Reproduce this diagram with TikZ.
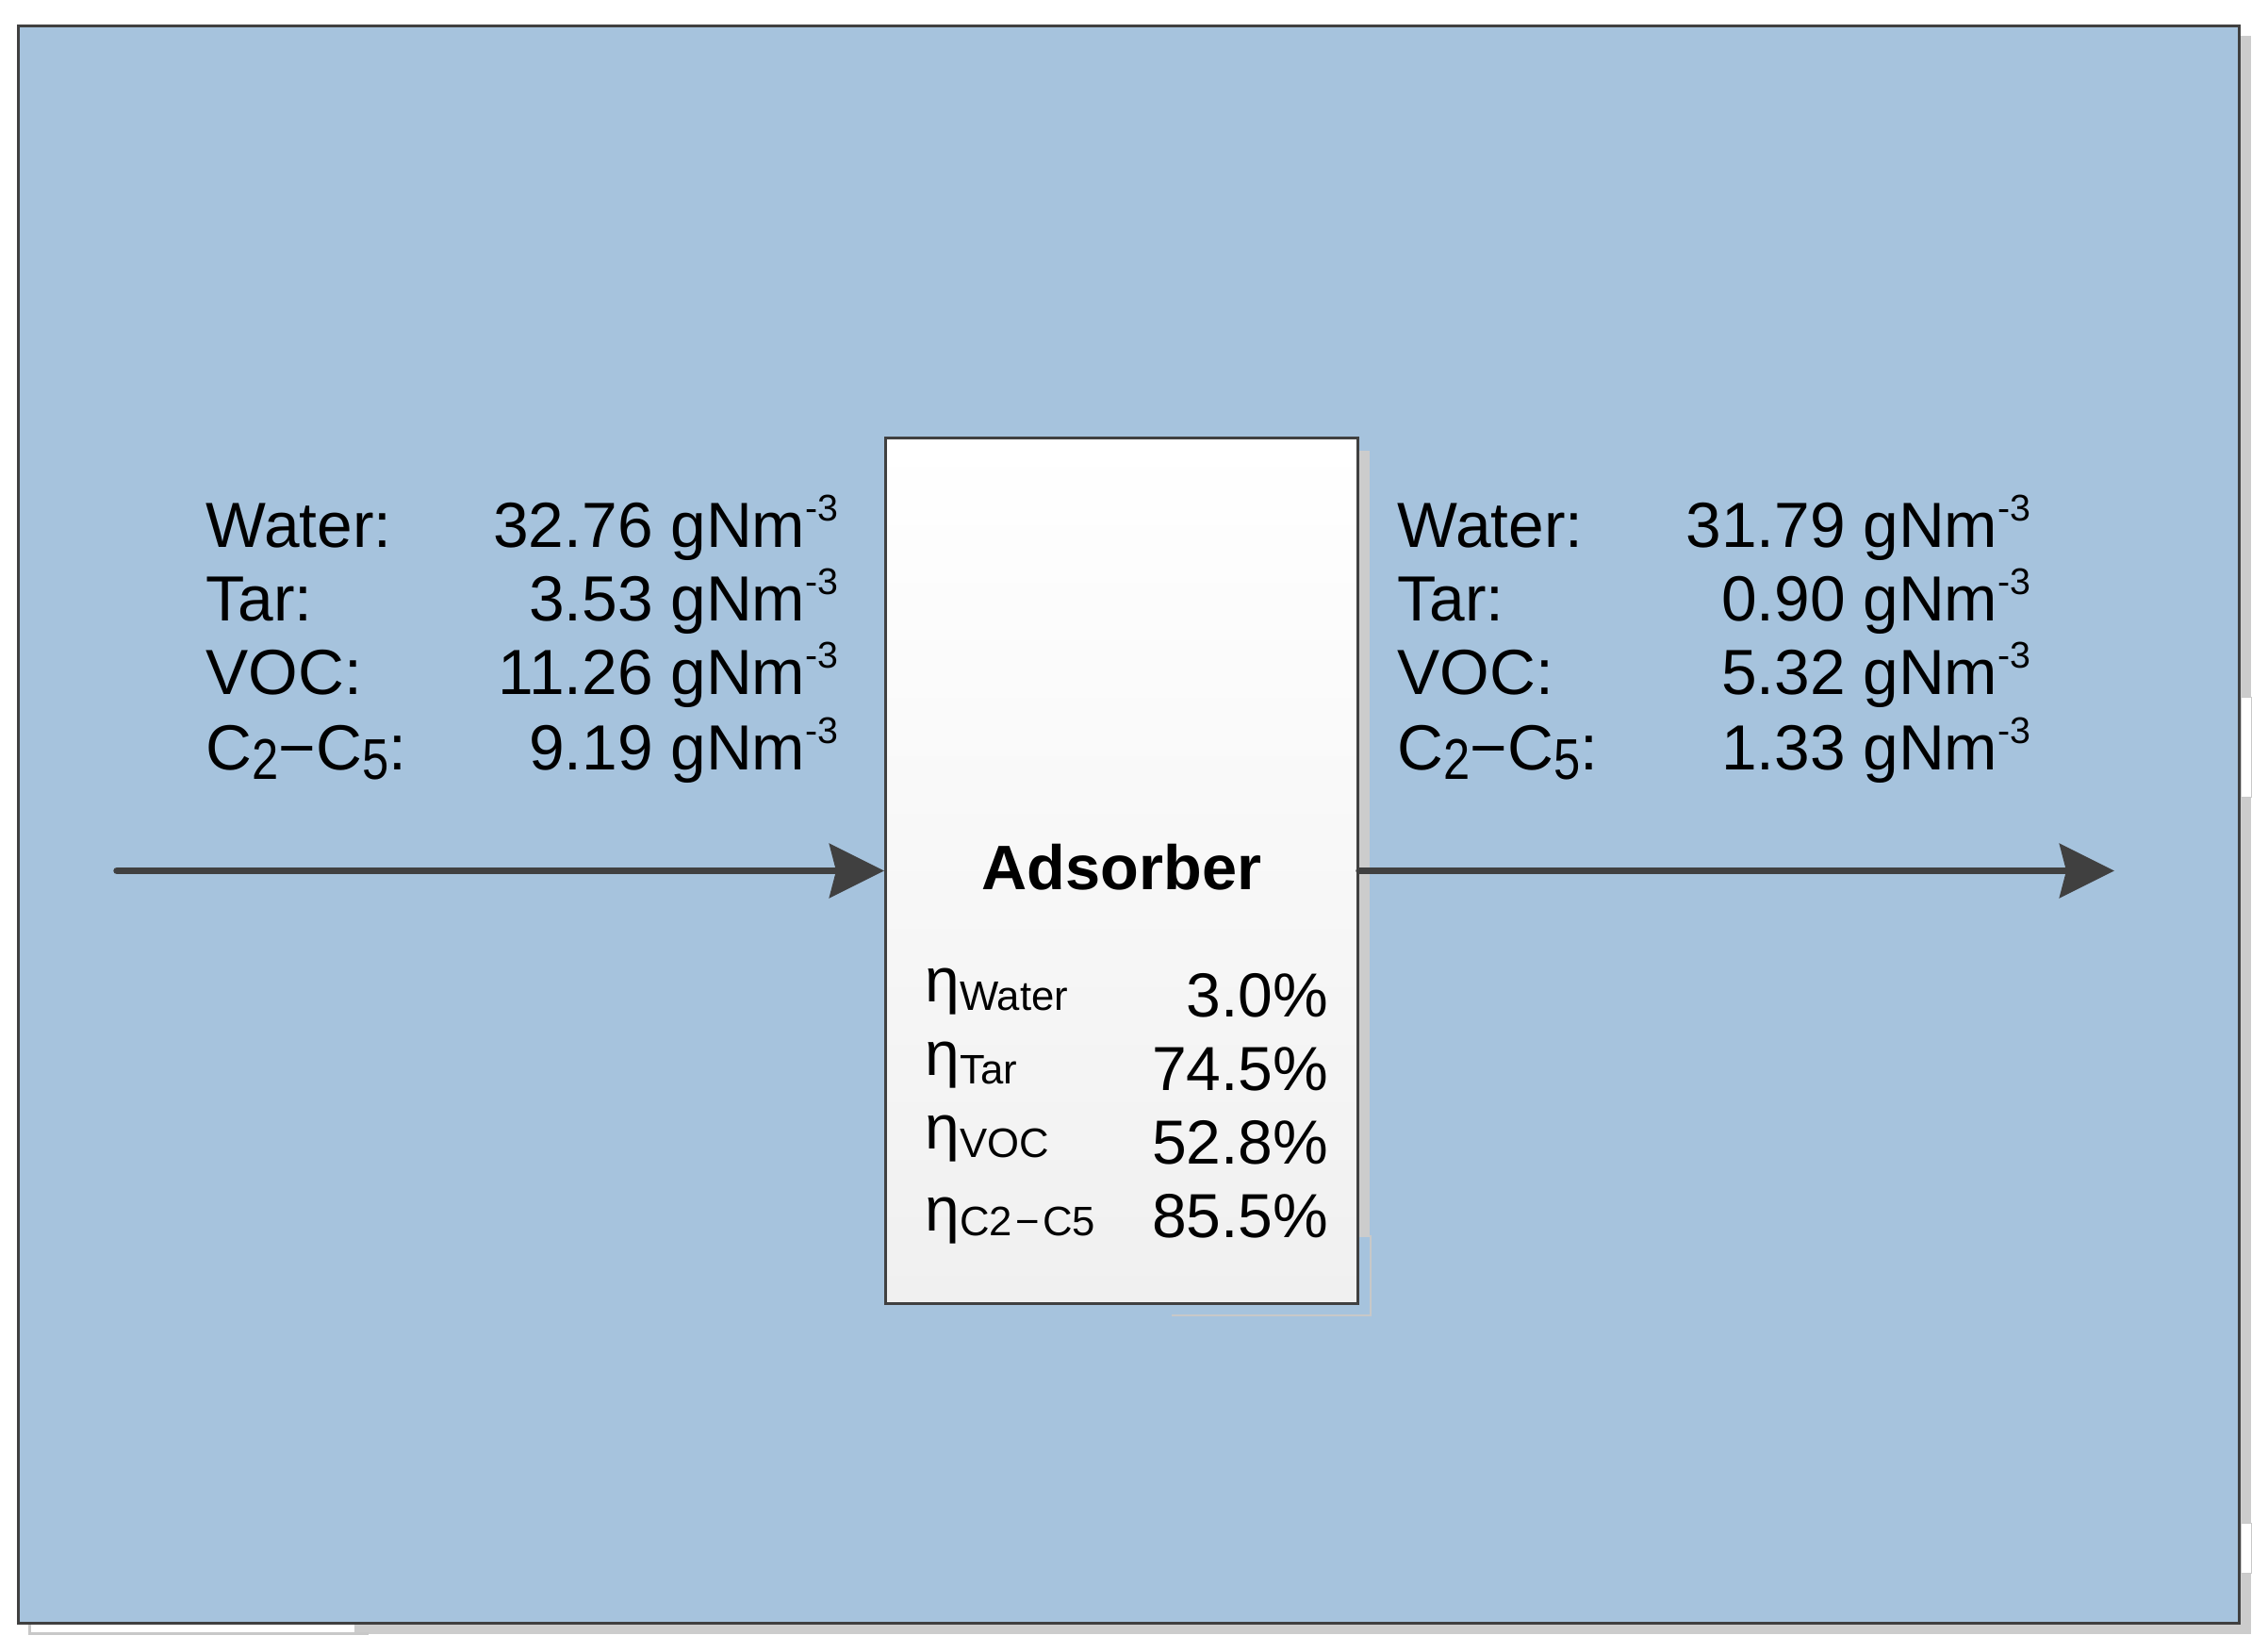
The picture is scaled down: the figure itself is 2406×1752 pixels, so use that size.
\documentclass[tikz,border=0pt]{standalone}
\usepackage{fontspec}
\setmainfont{Liberation Sans}
\usetikzlibrary{arrows.meta}
\definecolor{bgblue}{RGB}{166,195,221}
\definecolor{edgegray}{RGB}{64,64,64}
\definecolor{shadowgray}{RGB}{204,204,204}
\definecolor{shadowline}{RGB}{200,200,200}
\definecolor{boxbottom}{RGB}{240,240,240}
\newcommand\gnm{gNm\raisebox{8.3pt}{\fontsize{11.8pt}{11.8pt}\selectfont -3}}
\newcommand\subdig[1]{\raisebox{-3pt}{\scalebox{0.75}[0.9]{#1}}}
\newcommand\etarow[3]{\raisebox{#1}{η}\raisebox{#2}{\fontsize{13.1pt}{15pt}\selectfont #3}}
\begin{document}
\begin{tikzpicture}[x=0.3pt,y=-0.3pt,
  lbl/.style={anchor=base west, inner sep=0, font=\fontsize{20.3pt}{23pt}\selectfont},
  val/.style={anchor=base east, inner sep=0, font=\fontsize{20.3pt}{23pt}\selectfont},
  effl/.style={anchor=base west, inner sep=0, font=\fontsize{19.8pt}{23pt}\selectfont},
  effv/.style={anchor=base east, inner sep=0, font=\fontsize{19.8pt}{23pt}\selectfont},
  flow/.style={draw=edgegray, line width=2.25pt, line cap=round,
    -{Stealth[length=17.4pt,width=17.1pt,inset=2.1pt]}},
  unitbox/.style={draw=edgegray, line width=0.9pt, top color=white, bottom color=boxbottom,
    minimum width=150.3pt, minimum height=275.4pt, inner sep=0}]
\useasboundingbox (0,0) rectangle (2406,1752);
% frame shadow
\fill[shadowgray] (2377,38) rectangle (2388,1733);
\fill[shadowgray] (376,1723) rectangle (2388,1733);
\draw[shadowline, line width=0.3pt, fill=white] (2377,739) rectangle (2388,845);
\draw[shadowline, line width=0.3pt, fill=white] (2377,1615) rectangle (2388,1668);
\draw[shadowline, line width=0.9pt] (31,1723) -- (31,1732) -- (391,1732);
% frame
\draw[draw=edgegray, line width=0.9pt, fill=bgblue] (19.5,27.5) rectangle (2375.5,1721.5);
% box shadow
\fill[shadowgray] (1442,478) rectangle (1453,1312);
\draw[shadowline, line width=0.6pt] (1243,1395) -- (1454,1395) -- (1454,1310);
% box
\node[unitbox] (box) at (1190,923.5) {};
% arrows
\coordinate (inStart) at (124,923.5);
\coordinate (outEnd) at (2243,923.5);
\draw[flow] (inStart) -- (box.west);
\draw[flow] (box.east) -- (outEnd);
% left stream
\node[lbl] (lw) at (218,580) {Water:};
\node[lbl] (lt) at (218,658) {Tar:};
\node[lbl] (lv) at (218,736) {VOC:};
\node[lbl] (lc) at (218,816) {C\subdig{2}−C\subdig{5}:};
\node[val] (vw) at (890,580) {32.76 \gnm};
\node[val] (vt) at (890,658) {3.53 \gnm};
\node[val] (vv) at (890,736) {11.26 \gnm};
\node[val] (vc) at (890,816) {9.19 \gnm};
% right stream
\node[lbl] (rw) at (1482,580) {Water:};
\node[lbl] (rt) at (1482,658) {Tar:};
\node[lbl] (rv) at (1482,736) {VOC:};
\node[lbl] (rc) at (1482,816) {C\subdig{2}−C\subdig{5}:};
\node[val] (uw) at (2155,580) {31.79 \gnm};
\node[val] (ut) at (2155,658) {0.90 \gnm};
\node[val] (uv) at (2155,736) {5.32 \gnm};
\node[val] (uc) at (2155,816) {1.33 \gnm};
% box text
\node[anchor=base, inner sep=0, font=\fontsize{20pt}{24pt}\selectfont\bfseries] (title) at (1190,943) {Adsorber};
\node[effl] (ew) at (981,1078) {\etarow{4.8pt}{2.1pt}{Water}};
\node[effl] (et) at (981,1156) {\etarow{4.8pt}{2.1pt}{Tar}};
\node[effl] (ev) at (981,1234) {\etarow{4.8pt}{2.1pt}{VOC}};
\node[effl] (ec) at (981,1312) {\etarow{2.1pt}{0.6pt}{C2\kern1pt−\kern1ptC5}};
\node[effv] (nw) at (1410,1078) {3.0\%};
\node[effv] (nt) at (1410,1156) {74.5\%};
\node[effv] (nv) at (1410,1234) {52.8\%};
\node[effv] (nc) at (1410,1312) {85.5\%};
\end{tikzpicture}
\end{document}
